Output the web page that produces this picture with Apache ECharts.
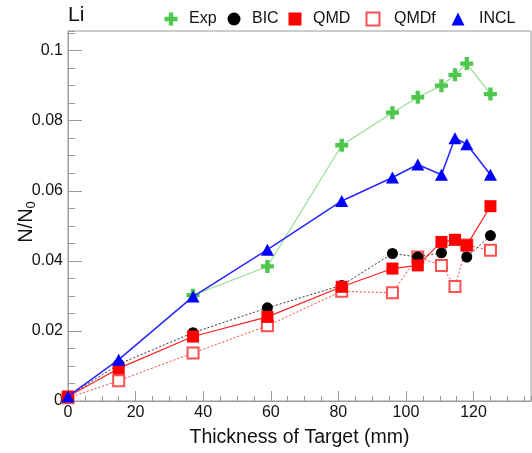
<!DOCTYPE html>
<html>
<head>
<meta charset="utf-8">
<script src="https://cdn.jsdelivr.net/npm/echarts@6/dist/echarts.min.js"></script>
<style>
  html, body { margin: 0; padding: 0; background: #fff; }
  #chart { width: 532px; height: 453px; }
</style>
</head>
<body>
<div id="chart"></div>
<script>
// Target thickness (mm) at which each yield was measured / simulated
const thickness = [0, 15, 37, 59, 81, 96, 103.5, 110.5, 114.5, 118, 125];

// Li yield ratio N/N0 per data set (null = no point)
const expValues  = [null, null, 0.0302, 0.0384, 0.0730, 0.0823, 0.0867, 0.0900, 0.0931, 0.0963, 0.0876];
const bicValues  = [0.0013, 0.0105, 0.0195, 0.0266, 0.0330, 0.0421, 0.0411, 0.0423, 0.0462, 0.0411, 0.0472];
const qmdValues  = [0.0013, 0.0093, 0.0184, 0.0240, 0.0326, 0.0378, 0.0387, 0.0454, 0.0460, 0.0444, 0.0556];
const qmdfValues = [0.0009, 0.0058, 0.0137, 0.0215, 0.0313, 0.0309, 0.0411, 0.0387, 0.0327, 0.0445, 0.0430];
const inclValues = [0.0013, 0.0118, 0.0298, 0.0432, 0.0571, 0.0638, 0.0675, 0.0646, 0.0750, 0.0733, 0.0646];

// Axis tick labels
const xTickLabels = ['0', '20', '40', '60', '80', '100', '120'];
const yTickLabels = ['0', '0.02', '0.04', '0.06', '0.08', '0.1'];

const FONT = 'Liberation Sans, Arial, Helvetica, sans-serif';
const CROSS = 'path://M4,0H8V4H12V8H8V12H4V8H0V4H4Z';
const AXIS_GRAY = '#9a9a9a';

function pairs(vals) {
  const out = [];
  thickness.forEach((x, i) => { if (vals[i] !== null) out.push([x, vals[i]]); });
  return out;
}

const X_MAX = 137;
const Y_MAX = 0.1056;

const chart = echarts.init(document.getElementById('chart'), null, { renderer: 'canvas' });

// One legend block per entry so each marker/label sits at its own spot
const legendDefs = [
  { name: 'Exp',  icon: CROSS,       center: 171, gap: 18 },
  { name: 'BIC',  icon: 'circle',    center: 234, gap: 18 },
  { name: 'QMD',  icon: 'rect',      center: 295, gap: 18 },
  { name: 'QMDf', icon: 'emptyRect', center: 372, gap: 21 },
  { name: 'INCL', icon: 'triangle',  center: 458, gap: 21 }
];
const ICON = 13;

const option = {
  animation: false,
  backgroundColor: '#fff',
  graphic: [
    { type: 'text', left: 68, top: 5,
      style: { text: 'Li', font: '21px ' + FONT, fill: '#111' } },
    { type: 'text', x: 26, y: 222, rotation: Math.PI / 2,
      style: {
        text: '{m|N/N}{s|0}', textAlign: 'center', textVerticalAlign: 'middle',
        rich: {
          m: { fontFamily: FONT, fontSize: 20, fill: '#111' },
          s: { fontFamily: FONT, fontSize: 13, fill: '#111', padding: [10, 0, 0, 0] }
        }
      } }
  ],
  legend: legendDefs.map(d => ({
    data: [{ name: d.name, icon: d.icon }],
    left: d.center - ICON / 2,
    top: 11,
    itemWidth: ICON,
    itemHeight: ICON,
    padding: 0,
    selectedMode: false,
    textStyle: {
      fontFamily: FONT, fontSize: 16, color: '#111',
      padding: [0, 0, 0, d.gap - ICON / 2 - 5]
    }
  })),
  grid: {
    left: 68, right: 1, top: 31, bottom: 46,
    show: true, borderColor: AXIS_GRAY, borderWidth: 1
  },
  xAxis: [
    {
      type: 'value', min: 0, max: X_MAX, interval: 20,
      name: 'Thickness of Target (mm)', nameLocation: 'middle', nameGap: 27,
      nameTextStyle: { fontFamily: FONT, fontSize: 19.5, color: '#111' },
      axisLine: { lineStyle: { color: AXIS_GRAY } },
      axisTick: { inside: true, length: 10, lineStyle: { color: AXIS_GRAY } },
      axisLabel: {
        margin: 4, fontFamily: FONT, fontSize: 16, color: '#111',
        showMaxLabel: false,
        formatter: v => { const s = String(Math.round(v)); return xTickLabels.includes(s) && Math.abs(v - Math.round(v)) < 1e-9 ? s : ''; }
      },
      splitLine: { show: false }
    },
    {
      type: 'value', min: 0, max: X_MAX, interval: 5, position: 'bottom',
      axisLine: { show: false },
      axisTick: { inside: true, length: 5, lineStyle: { color: AXIS_GRAY } },
      axisLabel: { show: false },
      splitLine: { show: false }
    }
  ],
  yAxis: [
    {
      type: 'value', min: 0, max: Y_MAX, interval: 0.02,
      axisLine: { lineStyle: { color: AXIS_GRAY } },
      axisTick: { inside: true, length: 14, lineStyle: { color: AXIS_GRAY } },
      axisLabel: {
        margin: 5, fontFamily: FONT, fontSize: 16, color: '#111',
        showMaxLabel: false,
        formatter: v => { const s = String(+v.toFixed(3)); return yTickLabels.includes(s) ? s : ''; }
      },
      splitLine: { show: false }
    },
    {
      type: 'value', min: 0, max: Y_MAX, interval: 0.005, position: 'left',
      axisLine: { show: false },
      axisTick: { inside: true, length: 7, lineStyle: { color: AXIS_GRAY } },
      axisLabel: { show: false },
      splitLine: { show: false }
    }
  ],
  series: [
    {
      name: 'Exp', type: 'line', data: pairs(expValues),
      symbol: CROSS, symbolSize: 13, z: 2,
      itemStyle: { color: '#4fc74f' },
      lineStyle: { color: '#93de93', width: 1.2 }
    },
    {
      name: 'QMDf', type: 'line', data: pairs(qmdfValues),
      symbol: 'emptyRect', symbolSize: 11, z: 3,
      itemStyle: { color: '#ff5050', borderColor: '#ff5050', borderWidth: 1 },
      lineStyle: { color: '#ff4040', width: 1, type: [2, 2] }
    },
    {
      name: 'BIC', type: 'line', data: pairs(bicValues),
      symbol: 'circle', symbolSize: 11, z: 4,
      itemStyle: { color: '#000' },
      lineStyle: { color: '#333', width: 1, type: [2, 2] }
    },
    {
      name: 'QMD', type: 'line', data: pairs(qmdValues),
      symbol: 'rect', symbolSize: 12, z: 5,
      itemStyle: { color: '#ff0000' },
      lineStyle: { color: '#ff2020', width: 1.2 }
    },
    {
      name: 'INCL', type: 'line', data: pairs(inclValues),
      symbol: 'triangle', symbolSize: [13, 12], z: 6,
      itemStyle: { color: '#0000ff' },
      lineStyle: { color: '#2a2aff', width: 1.6 }
    }
  ]
};

chart.setOption(option);
</script>
</body>
</html>
